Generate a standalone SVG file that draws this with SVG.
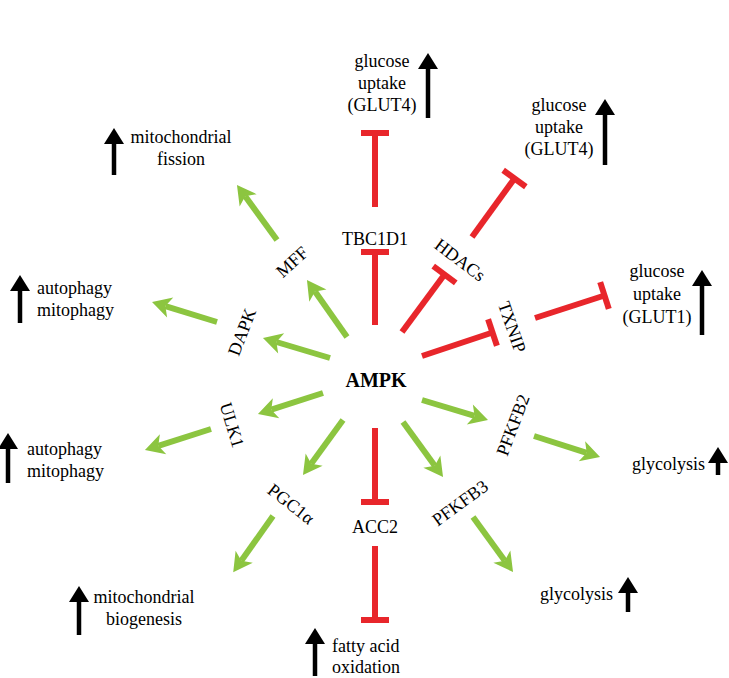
<svg xmlns="http://www.w3.org/2000/svg" width="729" height="678" viewBox="0 0 729 678">
<style>
text{font-family:"Liberation Serif","Times New Roman",serif;font-size:18px;fill:#000}
.c{text-anchor:middle}
.b{font-weight:bold;font-size:20px}
.g{stroke:#8cc540;stroke-width:6;fill:none;marker-end:url(#ga)}
.r{stroke:#e8262b;stroke-width:6;fill:none;marker-end:url(#tb)}
.k{stroke:#000;stroke-width:4.5;fill:none;marker-end:url(#ka)}
</style>
<defs>
<marker id="ga" markerUnits="userSpaceOnUse" markerWidth="24" markerHeight="24" refX="5" refY="0" orient="auto" overflow="visible"><path d="M19,0 L0,-10.5 L5,0 L0,10.5 Z" fill="#8cc540"/></marker>
<marker id="tb" markerUnits="userSpaceOnUse" markerWidth="10" markerHeight="30" refX="0" refY="0" orient="auto" overflow="visible"><path d="M0,-14 L0,14" stroke="#e8262b" stroke-width="6"/></marker>
<marker id="ka" markerUnits="userSpaceOnUse" markerWidth="20" markerHeight="24" refX="0" refY="0" orient="auto" overflow="visible"><path d="M16,0 L0,-10 L0,10 Z" fill="#000"/></marker>
</defs>
<g id="connectors">
<line class="g" x1="347" y1="337" x2="315" y2="291.5"/>
<line class="g" x1="277" y1="240" x2="245.2" y2="196.3"/>
<line class="g" x1="330" y1="358" x2="276.4" y2="342"/>
<line class="g" x1="217" y1="322" x2="165.4" y2="306.1"/>
<line class="g" x1="323" y1="393" x2="271.3" y2="409.7"/>
<line class="g" x1="211" y1="429" x2="158.3" y2="445.8"/>
<line class="g" x1="343" y1="420" x2="311.2" y2="463.7"/>
<line class="g" x1="273" y1="516" x2="241.3" y2="560.8"/>
<line class="g" x1="422" y1="400" x2="474.6" y2="415.9"/>
<line class="g" x1="534" y1="436" x2="586.7" y2="452.8"/>
<line class="g" x1="403" y1="422" x2="434.8" y2="465.7"/>
<line class="g" x1="473" y1="517" x2="504.8" y2="560.7"/>
<line class="r" x1="375" y1="325" x2="375" y2="252"/>
<line class="r" x1="375" y1="207" x2="375" y2="133"/>
<line class="r" x1="402" y1="332" x2="444.5" y2="274.5"/>
<line class="r" x1="472" y1="237" x2="514.5" y2="178.5"/>
<line class="r" x1="422" y1="356" x2="492.5" y2="332.5"/>
<line class="r" x1="535" y1="318" x2="604.5" y2="295.5"/>
<line class="r" x1="375" y1="428" x2="375" y2="502"/>
<line class="r" x1="375" y1="546" x2="375" y2="620"/>
<line class="k" x1="428" y1="118" x2="428" y2="69"/>
<line class="k" x1="605" y1="165" x2="605" y2="115"/>
<line class="k" x1="702" y1="335" x2="702" y2="286"/>
<line class="k" x1="114" y1="175" x2="114" y2="144"/>
<line class="k" x1="20" y1="323" x2="20" y2="291"/>
<line class="k" x1="8" y1="483" x2="8" y2="449"/>
<line class="k" x1="79" y1="635" x2="79" y2="602"/>
<line class="k" x1="315" y1="676" x2="315" y2="644"/>
<line class="k" x1="718" y1="475" x2="718" y2="463"/>
<line class="k" x1="628" y1="612" x2="628" y2="593"/>
</g>
<g id="AMPK"><text class="c b" x="376" y="387">AMPK</text></g>
<g id="TBC1D1"><text class="c" x="375" y="245">TBC1D1</text></g>
<g id="ACC2"><text class="c" x="375" y="533">ACC2</text></g>
<g id="HDACs"><text class="c" transform="translate(460,260) rotate(37)" y="6">HDACs</text></g>
<g id="TXNIP"><text class="c" transform="translate(512,327) rotate(71)" y="6">TXNIP</text></g>
<g id="PFKFB2"><text class="c" transform="translate(513,425) rotate(-69)" y="6">PFKFB2</text></g>
<g id="PFKFB3"><text class="c" transform="translate(460,503) rotate(-36)" y="6">PFKFB3</text></g>
<g id="PGC1a"><text class="c" transform="translate(291,504) rotate(38)" y="6">PGC1α</text></g>
<g id="ULK1"><text class="c" transform="translate(232,425) rotate(73)" y="6">ULK1</text></g>
<g id="DAPK"><text class="c" transform="translate(242,332) rotate(-69)" y="6">DAPK</text></g>
<g id="MFF"><text class="c" transform="translate(292,262) rotate(-42)" y="6">MFF</text></g>
<g id="glut4-top"><text class="c" x="382" y="67">glucose</text><text class="c" x="382" y="89">uptake</text><text class="c" x="382" y="111">(GLUT4)</text></g>
<g id="glut4-right"><text class="c" x="559" y="111">glucose</text><text class="c" x="559" y="133">uptake</text><text class="c" x="559" y="155">(GLUT4)</text></g>
<g id="glut1"><text class="c" x="657" y="277">glucose</text><text class="c" x="657" y="300">uptake</text><text class="c" x="657" y="323">(GLUT1)</text></g>
<g id="fission"><text class="c" x="181" y="143">mitochondrial</text><text class="c" x="181" y="165">fission</text></g>
<g id="autophagy1"><text x="37" y="294">autophagy</text><text x="37" y="316">mitophagy</text></g>
<g id="autophagy2"><text x="27" y="455">autophagy</text><text x="27" y="477">mitophagy</text></g>
<g id="biogenesis"><text class="c" x="144" y="603">mitochondrial</text><text class="c" x="144" y="625">biogenesis</text></g>
<g id="fatty"><text x="332" y="652">fatty acid</text><text x="332" y="673">oxidation</text></g>
<g id="glycolysis1"><text x="632" y="470">glycolysis</text></g>
<g id="glycolysis2"><text x="540" y="600">glycolysis</text></g>
</svg>
